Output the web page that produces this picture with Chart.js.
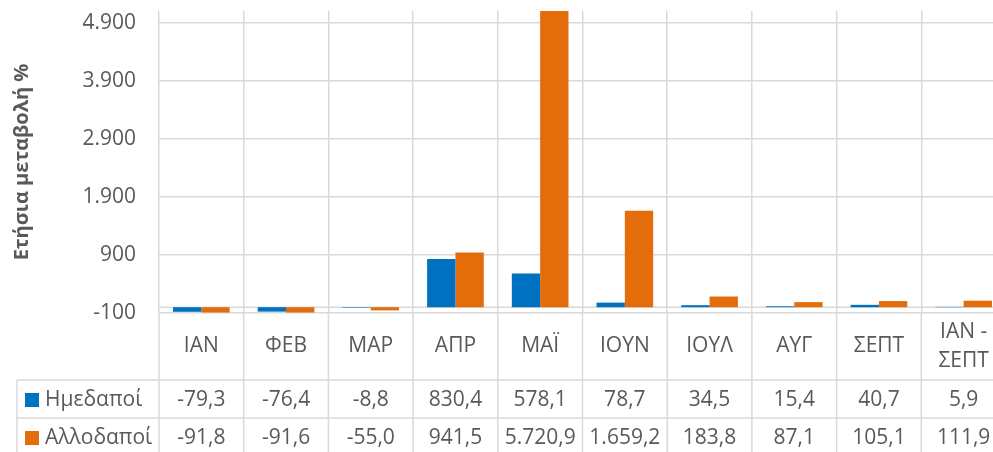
<!DOCTYPE html>
<html><head><meta charset="utf-8">
<script src="https://cdn.jsdelivr.net/npm/chart.js@4.4.1/dist/chart.umd.min.js"></script>
<style>
html,body{margin:0;padding:0;overflow:hidden;background:#fff;width:993px;height:452px;}
#wrap{position:absolute;left:0;top:0;width:1008px;height:452px;}
</style></head>
<body>
<div id="wrap"><canvas id="c" width="1008" height="452"></canvas></div>
<script>
const categories = ['ΙΑΝ','ΦΕΒ','ΜΑΡ','ΑΠΡ','ΜΑΪ','ΙΟΥΝ','ΙΟΥΛ','ΑΥΓ','ΣΕΠΤ',['ΙΑΝ -','ΣΕΠΤ']];
const seriesNames = ['Ημεδαποί','Αλλοδαποί'];
const domestic = [-79.3,-76.4,-8.8,830.4,578.1,78.7,34.5,15.4,40.7,5.9];
const foreign = [-91.8,-91.6,-55.0,941.5,5720.9,1659.2,183.8,87.1,105.1,111.9];
const yTicks = [-100,900,1900,2900,3900,4900];
const yMin = -100, yMax = 5100;
const colors = ['#0070C0','#E46C0A'];
const textColor = '#595959';
const lineColor = '#D9D9D9';

function fmt(v, dec){
  const s = Math.abs(v).toFixed(dec);
  let [i,f] = s.split('.');
  i = i.replace(/\B(?=(\d{3})+(?!\d))/g,'.');
  return (v<0?'-':'') + i + (f ? ','+f : '');
}

Chart.defaults.font.family = "'Open Sans', sans-serif";
Chart.defaults.color = textColor;

const tablePlugin = {
  id: 'dataTable',
  beforeDatasetsDraw(chart){
    const ctx = chart.ctx, ca = chart.chartArea;
    const y0 = chart.scales.y.getPixelForValue(0);
    ctx.save();
    ctx.strokeStyle = lineColor; ctx.lineWidth = 1.5;
    ctx.beginPath(); ctx.moveTo(ca.left, y0); ctx.lineTo(ca.right, y0); ctx.stroke();
    ctx.restore();
  },
  afterDraw(chart){
    const ctx = chart.ctx, ca = chart.chartArea, xs = chart.scales.x;
    const n = categories.length;
    const half = (xs.getPixelForValue(1) - xs.getPixelForValue(0)) / 2;
    const catTop = ca.bottom, catBot = ca.bottom + 67;
    const rowH = 38;
    const tableBot = catBot + rowH * seriesNames.length;
    const leftEdge = 17;
    ctx.save();
    ctx.strokeStyle = lineColor; ctx.lineWidth = 1.5;
    ctx.beginPath();
    for (let i = 0; i <= n; i++) {
      const bx = (i < n ? xs.getPixelForValue(i) - half : xs.getPixelForValue(n-1) + half);
      ctx.moveTo(bx, catTop); ctx.lineTo(bx, tableBot);
    }
    for (let r = 0; r <= seriesNames.length; r++) {
      const yy = catBot + r * rowH;
      ctx.moveTo(leftEdge, yy); ctx.lineTo(ca.right, yy);
    }
    ctx.moveTo(leftEdge, catBot); ctx.lineTo(leftEdge, tableBot);
    ctx.stroke();

    ctx.fillStyle = textColor;
    ctx.font = "21px 'Open Sans'";
    ctx.textAlign = 'center'; ctx.textBaseline = 'middle';
    const catMid = (catTop + catBot) / 2;
    categories.forEach((c, i) => {
      const cx = xs.getPixelForValue(i);
      if (Array.isArray(c)) {
        const lh = 29;
        c.forEach((t, k) => ctx.fillText(t, cx, catMid - lh*(c.length-1)/2 + k*lh));
      } else ctx.fillText(c, cx, catMid);
    });
    const series = [domestic, foreign];
    series.forEach((arr, r) => {
      const cy = catBot + r*rowH + rowH/2 + 1;
      arr.forEach((v, i) => ctx.fillText(fmt(v,1), xs.getPixelForValue(i), cy));
      ctx.fillStyle = colors[r];
      ctx.fillRect(25, cy - 7, 14, 14);
      ctx.fillStyle = textColor;
      ctx.textAlign = 'left';
      ctx.fillText(seriesNames[r], 45, cy);
      ctx.textAlign = 'center';
    });
    ctx.restore();
  }
};

new Chart(document.getElementById('c'), {
  type: 'bar',
  data: {
    labels: categories,
    datasets: [
      { label: seriesNames[0], data: domestic, backgroundColor: colors[0], borderWidth: 0 },
      { label: seriesNames[1], data: foreign, backgroundColor: colors[1], borderWidth: 0 }
    ]
  },
  options: {
    responsive: false,
    animation: false,
    devicePixelRatio: 1,
    layout: { padding: { top: 11, right: 2, left: 0, bottom: 0 } },
    datasets: { bar: { categoryPercentage: 0.669, barPercentage: 1.0 } },
    plugins: { legend: { display: false }, tooltip: { enabled: false } },
    scales: {
      x: {
        ticks: { display: false },
        grid: { offset: true, color: lineColor, lineWidth: 1.5, drawTicks: false },
        border: { display: false },
        afterFit(s){ s.height = 139; s.paddingLeft = 0; s.paddingRight = 0; }
      },
      y: {
        min: yMin, max: yMax,
        afterBuildTicks(s){ s.ticks = yTicks.map(v => ({ value: v })); },
        afterFit(s){ s.width = 159; s.paddingTop = 0; s.paddingBottom = 0; },
        ticks: { padding: 23, font: { size: 21 }, color: textColor, callback: v => fmt(v,0) },
        grid: { color: lineColor, lineWidth: 1.5, drawTicks: false },
        border: { display: false },
        title: { display: true, text: 'Ετήσια μεταβολή %', color: textColor,
                 font: { size: 20, weight: 'bold' }, padding: { top: 10, bottom: 0 } }
      }
    }
  },
  plugins: [tablePlugin]
});
</script>
</body></html>
